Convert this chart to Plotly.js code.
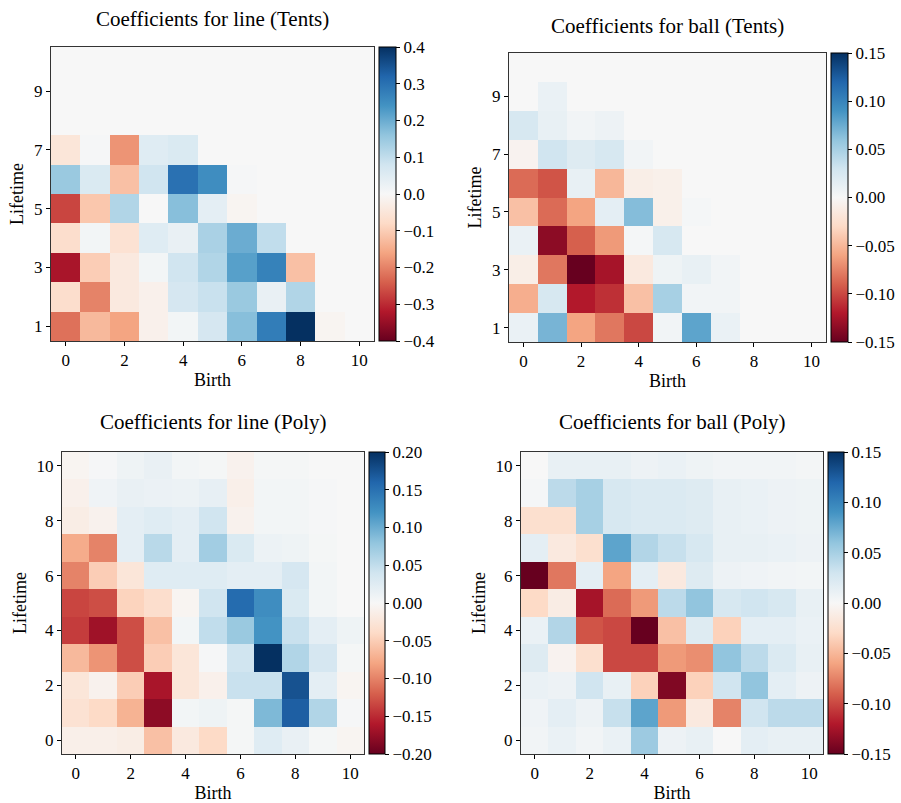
<!DOCTYPE html>
<html>
<head>
<meta charset="utf-8">
<script src="https://cdn.plot.ly/plotly-3.0.1.min.js"></script>
<style>body{margin:0;padding:0;background:#fff}#chart{width:901px;height:803px}</style>
</head>
<body>
<div id="chart"></div>
<script>
// ---------- DATA ----------
const birth = [0,1,2,3,4,5,6,7,8,9,10];
const lifetimeTents = [1,2,3,4,5,6,7,8,9,10];
const lifetimePoly = [0,1,2,3,4,5,6,7,8,9,10];

const titles = ["Coefficients for line (Tents)", "Coefficients for ball (Tents)",
                "Coefficients for line (Poly)", "Coefficients for ball (Poly)"];
const xTitle = "Birth";
const yTitle = "Lifetime";

// rows = lifetime (bottom to top), columns = birth 0..10
const zLineTents = [
  [-0.22,-0.13,-0.16,-0.02, 0.01, 0.07, 0.17, 0.28, 0.40,-0.01, 0],
  [-0.07,-0.20,-0.04,-0.02, 0.07, 0.09, 0.15, 0.03, 0.12, 0, 0],
  [-0.33,-0.10,-0.04, 0.01, 0.08, 0.12, 0.22, 0.27,-0.12, 0, 0],
  [-0.07, 0.01,-0.06, 0.05, 0.03, 0.13, 0.20, 0.10, 0, 0, 0],
  [-0.27,-0.11, 0.12, 0.00, 0.17, 0.04,-0.01, 0, 0, 0, 0],
  [ 0.15, 0.06,-0.12, 0.08, 0.30, 0.25, 0.005, 0, 0, 0, 0],
  [-0.05, 0.005,-0.18, 0.05, 0.06, 0, 0, 0, 0, 0, 0],
  [0,0,0,0,0,0,0,0,0,0,0],
  [0,0,0,0,0,0,0,0,0,0,0],
  [0,0,0,0,0,0,0,0,0,0,0]
];
const zBallTents = [
  [ 0.01, 0.07,-0.06,-0.08,-0.10, 0.005, 0.08, 0.01, 0, 0, 0],
  [-0.055, 0.025,-0.12,-0.11,-0.045, 0.05, 0.005, 0.005, 0, 0, 0],
  [-0.01,-0.08,-0.15,-0.125,-0.015, 0.007, 0.012, 0.005, 0, 0, 0],
  [ 0.01,-0.135,-0.09,-0.065, 0.002, 0.025, 0, 0, 0, 0, 0],
  [-0.045,-0.085,-0.06, 0.015, 0.065,-0.008, 0.002, 0, 0, 0, 0],
  [-0.085,-0.095, 0.012,-0.05,-0.01,-0.008, 0, 0, 0, 0, 0],
  [-0.005, 0.03, 0.02, 0.025, 0.005, 0, 0, 0, 0, 0, 0],
  [ 0.025, 0.012, 0.005, 0.008, 0, 0, 0, 0, 0, 0, 0],
  [ 0, 0.01, 0, 0, 0, 0, 0, 0, 0, 0, 0],
  [0,0,0,0,0,0,0,0,0,0,0]
];
const zLinePoly = [
  [-0.012,-0.012,-0.015,-0.06,-0.02,-0.04, 0.003, 0.025, 0.015, 0.003,-0.005],
  [-0.03,-0.04,-0.07,-0.18, 0.005, 0.01, 0.003, 0.09, 0.165, 0.06, 0.002],
  [-0.025,-0.008,-0.05,-0.165,-0.025,-0.01, 0.045, 0.045, 0.175, 0.02,-0.005],
  [-0.065,-0.09,-0.13,-0.05,-0.025, 0.002, 0.04, 0.20, 0.06, 0.035, 0.003],
  [-0.14,-0.17,-0.13,-0.06, 0.005, 0.05, 0.075, 0.12, 0.045, 0.02, 0.01],
  [-0.135,-0.13,-0.045,-0.035,-0.005, 0.04, 0.155, 0.125, 0.03, 0.005, 0],
  [-0.10,-0.05,-0.025, 0.025, 0.025, 0.025, 0.02, 0.02, 0.035, 0.005, 0],
  [-0.075,-0.10, 0.02, 0.055, 0.02, 0.07, 0.03, 0.012, 0.01, 0.003, 0],
  [-0.015,-0.008, 0.02, 0.025, 0.02, 0.04,-0.008, 0.005, 0.005, 0.002, 0],
  [-0.01, 0.008, 0.015, 0.013, 0.012, 0.017,-0.012, 0.005, 0.005, 0.002, 0],
  [-0.005, 0.002, 0.01, 0.015, 0.005, 0.003,-0.008, 0.003, 0.003, 0, 0]
];
const zBallPoly = [
  [ 0.005, 0.01, 0.005, 0.01, 0.055, 0.008, 0.012, 0.0, 0.015, 0.012, 0.012],
  [ 0.006, 0.015, 0.008, 0.035, 0.08,-0.065,-0.015,-0.075, 0.03, 0.04, 0.04],
  [ 0.01, 0.008, 0.03, 0.012,-0.035,-0.14,-0.035, 0.03, 0.06, 0.015, 0.008],
  [ 0.02,-0.005,-0.025,-0.10,-0.10,-0.065,-0.07, 0.06, 0.04, 0.022, 0.012],
  [ 0.01, 0.045,-0.095,-0.10,-0.15,-0.045, 0.02,-0.035, 0.015, 0.015, 0.01],
  [-0.03,-0.012,-0.125,-0.085,-0.065, 0.04, 0.06, 0.025, 0.03, 0.025, 0.012],
  [-0.15,-0.08, 0.015,-0.06, 0.015,-0.015, 0.02, 0.008, 0.006, 0.005, 0.004],
  [ 0.015,-0.015,-0.025, 0.08, 0.045, 0.035, 0.025, 0.012, 0.012, 0.01, 0.008],
  [-0.025,-0.025, 0.05, 0.025, 0.022, 0.022, 0.02, 0.012, 0.01, 0.008, 0.007],
  [ 0.002, 0.04, 0.05, 0.025, 0.022, 0.022, 0.02, 0.012, 0.01, 0.008, 0.007],
  [ 0.0, 0.012, 0.012, 0.012, 0.008, 0.01, 0.007, 0.005, 0.005, 0.005, 0.003]
];

const zLimits = [0.4, 0.15, 0.2, 0.15];
const cbDtick = [0.1, 0.05, 0.05, 0.05];
const cbFormat = [".1f", ".2f", ".2f", ".2f"];
const yTickVals = [[1,3,5,7,9],[1,3,5,7,9],[0,2,4,6,8,10],[0,2,4,6,8,10]];
const xTickVals = [0,2,4,6,8,10];

// ---------- LAYOUT ----------
const W = 901, H = 803;
const FONT = "Liberation Serif, serif";
// matplotlib RdBu
const rdbu = [
  [0.0,'#67001f'],[0.1,'#b2182b'],[0.2,'#d6604d'],[0.3,'#f4a582'],[0.4,'#fddbc7'],
  [0.5,'#f7f7f7'],[0.6,'#d1e5f0'],[0.7,'#92c5de'],[0.8,'#4393c3'],[0.9,'#2166ac'],[1.0,'#053061']
];
// pixel boxes: [left, right, top, bottom], colorbar left, thickness
const boxes = [
  {l:51, r:374, t:47, b:341, cb:379, th:17},
  {l:509, r:826, t:53, b:342, cb:831, th:17},
  {l:62, r:364, t:452, b:754, cb:369, th:16},
  {l:521, r:823, t:452, b:754, cb:828, th:16}
];
const titleY = [19, 26, 422, 422];
const zs = [zLineTents, zBallTents, zLinePoly, zBallPoly];
const ys = [lifetimeTents, lifetimeTents, lifetimePoly, lifetimePoly];
const yRanges = [[0.5,10.5],[0.5,10.5],[-0.5,10.5],[-0.5,10.5]];

const traces = [];
const layout = {
  width: W, height: H,
  margin: {l:0, r:0, t:0, b:0},
  paper_bgcolor: '#ffffff', plot_bgcolor: '#ffffff',
  font: {family: FONT, size: 15, color: '#000'},
  showlegend: false,
  annotations: []
};

for (let i = 0; i < 4; i++) {
  const b = boxes[i];
  const sx = i === 0 ? '' : String(i + 1);
  traces.push({
    type: 'heatmap',
    x: birth, y: ys[i], z: zs[i],
    xaxis: 'x' + sx, yaxis: 'y' + sx,
    colorscale: rdbu, zmin: -zLimits[i], zmax: zLimits[i],
    hoverinfo: 'skip',
    colorbar: {
      x: b.cb / W, xanchor: 'left', xpad: 0,
      y: 1 - b.t / H, yanchor: 'top', ypad: 0,
      len: (b.b - b.t) / H, lenmode: 'fraction',
      thickness: b.th, thicknessmode: 'pixels',
      outlinewidth: 1, outlinecolor: '#000',
      ticks: 'outside', ticklen: 4, tickcolor: '#000', tickwidth: 1,
      tick0: 0, dtick: cbDtick[i], tickformat: cbFormat[i],
      tickfont: {family: FONT, size: 17, color: '#000'}
    }
  });
  layout['xaxis' + sx] = {
    domain: [b.l / W, b.r / W], anchor: 'y' + sx,
    range: [-0.5, 10.5], tickvals: xTickVals, ticks: 'outside', ticklen: 4,
    tickcolor: '#000', showline: true, mirror: true, linecolor: '#333', linewidth: 1,
    showgrid: false, zeroline: false,
    tickfont: {family: FONT, size: 17, color: '#000'},
    title: {text: xTitle, font: {family: FONT, size: 18, color: '#000'}, standoff: 3}
  };
  layout['yaxis' + sx] = {
    domain: [1 - b.b / H, 1 - b.t / H], anchor: 'x' + sx,
    range: yRanges[i], tickvals: yTickVals[i], ticks: 'outside', ticklen: 4,
    tickcolor: '#000', showline: true, mirror: true, linecolor: '#333', linewidth: 1,
    showgrid: false, zeroline: false,
    tickfont: {family: FONT, size: 17, color: '#000'},
    title: {text: yTitle, font: {family: FONT, size: 18, color: '#000'}, standoff: 5}
  };
  layout.annotations.push({
    text: titles[i], xref: 'paper', yref: 'paper',
    x: (b.l + b.r) / 2 / W, y: 1 - titleY[i] / H,
    xanchor: 'center', yanchor: 'middle', showarrow: false,
    font: {family: FONT, size: 21, color: '#000'}
  });
}

Plotly.newPlot('chart', traces, layout, {displayModeBar: false, staticPlot: true});
</script>
</body>
</html>
